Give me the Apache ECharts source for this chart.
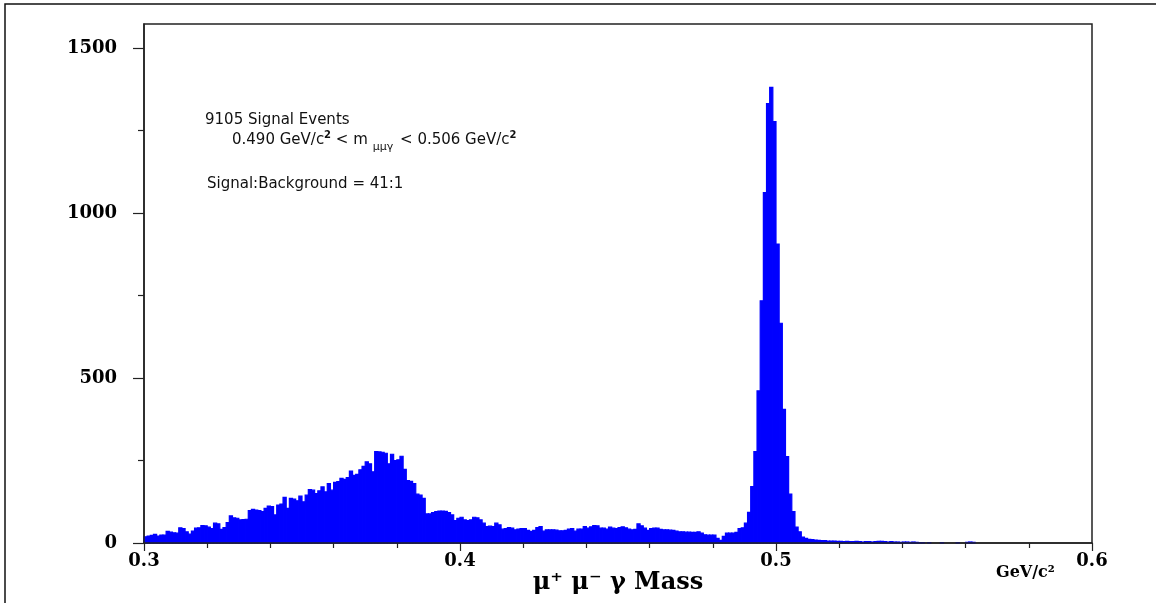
<!DOCTYPE html>
<html>
<head>
<meta charset="utf-8">
<script src="https://cdn.jsdelivr.net/npm/echarts@6/dist/echarts.min.js"></script>
<style>
html,body{margin:0;padding:0;background:#fff;}
#chart{width:1156px;height:603px;}
</style>
</head>
<body>
<div id="chart"></div>
<script>
// ---- data ----
const massLow = 0.300;      // GeV/c^2, first bin edge
const binWidth = 0.001;     // GeV/c^2
const countsA = [19,21,23,26,21,24,24,35,33,31,30,46,44,34,27,36,45,46,53,52,48,44,60,58,41,47,62,82,76,75,70,71,72,98,102,100,98,95,105,112,110,85,115,118,138,105,135,133,128,142];
const countsB = [125,145,162,160,150,158,170,155,180,160,184,186,196,193,198,218,205,208,222,232,246,240,216,277,276,275,272,240,269,250,252,263,223,189,187,180,148,145,135,88,88,92,95,97,97,96,92,85,68,75];
const countsC = [78,70,68,70,78,76,70,60,50,51,50,60,55,42,44,47,45,40,42,44,44,38,35,38,47,50,36,40,40,40,39,37,37,38,42,44,36,42,42,50,45,49,53,52,45,45,42,48,45,44];
const countsD = [47,49,46,42,40,41,58,52,45,38,44,45,45,41,40,40,39,38,36,34,34,33,33,32,32,34,30,25,24,24,24,14,8,20,30,30,30,32,44,46];
const countsPeak = [60,93,171,277,461,734,1062,1332,1381,1277,906,666,405,262,148,95,48,34];
const countsTail = [18,14,11,10,9,8,7,7,6,6,6,5,5,4,5,4,4,5,4,3,4,4,3,4,5,5,4,3,4,3,3,2,3,3,2,3,2,1,1,0,1,0,0,0,1,0,0,0,0,1,0,0,2,3,2,
  0,0,0,0,0,0,0,0,0,0,0,0,0,0,0,0,0,0,0,0,0,0,0,0,0,0,0,0,0,0,0,0,0,0,0,0,0];
const xTickLabels = ['0.3','0.4','0.5','0.6'];
const yMajorTicks = [0,500,1000,1500];
const yMinorTicks = [250,750,1250];
const annot1 = '9105 Signal Events';
const annot3 = 'Signal:Background = 41:1';
const xTitle = 'μ⁺ μ⁻ γ Mass';
const xUnit = 'GeV/c²';

const counts = [].concat(countsA, countsB, countsC, countsD, countsPeak, countsTail);
const binData = counts.map((c, i) => [
  +(massLow + i * binWidth).toFixed(3),
  +(massLow + (i + 1) * binWidth).toFixed(3),
  c
]);

const chart = echarts.init(document.getElementById('chart'), null, {renderer: 'canvas'});
const serif = '"DejaVu Serif", "Liberation Serif", serif';
const sans = '"DejaVu Sans", "Liberation Sans", sans-serif';

chart.setOption({
  animation: false,
  backgroundColor: '#fff',
  grid: {left: 144, top: 24, right: 64, bottom: 60, show: true, borderColor: '#222', borderWidth: 1.5, backgroundColor: '#fff'},
  xAxis: {
    type: 'value', min: 0.3, max: 0.6, interval: 0.1, z: 5,
    axisLine: {show: true, onZero: false, lineStyle: {color: '#222', width: 1.5}},
    axisTick: {show: true, inside: false, length: 8, lineStyle: {color: '#222', width: 1.2}},
    minorTick: {show: true, splitNumber: 5, length: 5, lineStyle: {color: '#222', width: 1.2}},
    splitLine: {show: false},
    axisLabel: {
      margin: 9, color: '#000', fontFamily: serif, fontWeight: 'bold', fontSize: 18,
      formatter: v => { const s = (+v).toFixed(1); return xTickLabels.includes(s) ? s : ''; }
    }
  },
  yAxis: [{
    type: 'value', min: 0, max: 1573, interval: 500, z: 5,
    axisLine: {show: true, lineStyle: {color: '#222', width: 1.5}},
    axisTick: {show: true, inside: false, length: 11, customValues: yMajorTicks, lineStyle: {color: '#222', width: 1.2}},
    splitLine: {show: false},
    axisLabel: {
      margin: 27, color: '#000', fontFamily: serif, fontWeight: 'bold', fontSize: 18,
      customValues: yMajorTicks,
      formatter: v => (yMajorTicks.includes(v) ? String(v) : '')
    }
  }, {
    type: 'value', min: 0, max: 1573, position: 'left', z: 5,
    axisLine: {show: false},
    axisTick: {show: true, inside: false, length: 6, customValues: yMinorTicks, lineStyle: {color: '#222', width: 1.2}},
    axisLabel: {show: false},
    splitLine: {show: false}
  }],
  series: [{
    type: 'custom', data: binData, yAxisIndex: 0, z: 2,
    encode: {x: [0, 1], y: 2},
    renderItem: (params, api) => {
      const c = api.value(2);
      if (!c) return null;
      const p0 = api.coord([api.value(0), c]);
      const p1 = api.coord([api.value(1), 0]);
      return {
        type: 'rect',
        shape: {x: p0[0], y: p0[1], width: p1[0] - p0[0], height: p1[1] - p0[1]},
        style: {fill: '#0000ff', stroke: '#0000ff', lineWidth: 1.2}
      };
    }
  }],
  graphic: [
    {type: 'polyline', shape: {points: [[5, 603], [5, 4], [1156, 4]]}, style: {stroke: '#111', lineWidth: 1.5, fill: null}},
    {type: 'text', left: 205, top: 113, style: {text: annot1, font: '15px ' + sans, fill: '#111'}},
    {type: 'text', left: 232, top: 130, style: {
      text: '0.490 GeV/c{sup|2} < m{sub|μμγ} < 0.506 GeV/c{sup|2}',
      font: '15px ' + sans, fill: '#111',
      rich: {
        sup: {fontSize: 10, fontWeight: 'bold', fontFamily: sans, fill: '#111', padding: [0, 0, 10, 0]},
        sub: {fontSize: 11, fontFamily: sans, fill: '#111', padding: [14, 2, 0, 5]}
      }
    }},
    {type: 'text', left: 207, top: 177, style: {text: annot3, font: '15px ' + sans, fill: '#111'}},
    {type: 'text', x: 618, y: 583, style: {text: xTitle, font: 'bold 24px ' + serif, fill: '#000', align: 'center', verticalAlign: 'middle'}},
    {type: 'text', left: 996, top: 565, style: {text: xUnit, font: 'bold 16px ' + serif, fill: '#000'}}
  ]
});
</script>
</body>
</html>
